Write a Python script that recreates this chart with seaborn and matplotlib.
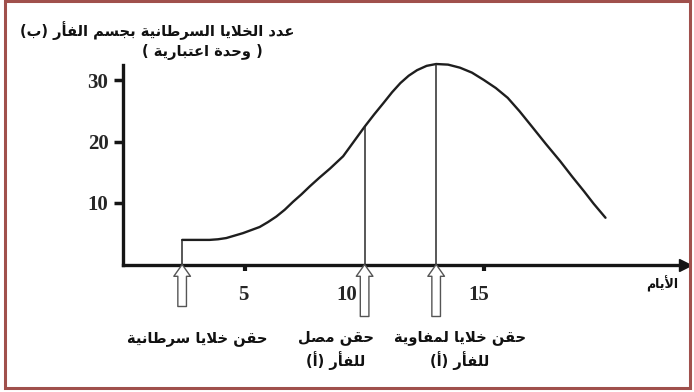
import numpy as np
import matplotlib
matplotlib.use('Agg')
import matplotlib.pyplot as plt
import seaborn as sns
from matplotlib.patches import Rectangle

# curve (days, arbitrary units)
days = [2.35, 3.5, 3.85, 4.2, 4.55, 4.9, 5.25, 5.6, 5.95, 6.3, 6.65, 7.0,
        7.35, 7.7, 8.1, 8.55, 9.1, 9.55, 10.0, 10.4, 10.8, 11.15, 11.5,
        11.85, 12.2, 12.6, 13.0, 13.5, 14.0, 14.5, 15.0, 15.5, 16.0, 16.5,
        17.0, 17.6, 18.2, 18.7, 19.2, 19.6, 20.1]
cells = [4.0, 4.0, 4.1, 4.3, 4.7, 5.1, 5.6, 6.1, 6.9, 7.8, 8.9, 10.2,
         11.4, 12.7, 14.1, 15.6, 17.6, 20.0, 22.4, 24.4, 26.3, 28.0, 29.5,
         30.7, 31.6, 32.3, 32.6, 32.5, 32.0, 31.2, 30.0, 28.7, 27.1, 24.9,
         22.5, 19.6, 16.8, 14.3, 11.9, 9.9, 7.6]

event_days = [2.35, 10.0, 13.0]
event_labels = ['حقن خلايا سرطانية', 'حقن مصل\nللفأر (أ)', 'حقن خلايا لمفاوية\nللفأر (أ)']

x_ticks = [5, 10, 15]
y_ticks = [10, 20, 30]
title_lines = ['عدد الخلايا السرطانية بجسم الفأر (ب)', '( وحدة اعتبارية )']
x_label = 'الأيام'

# --- minimal arabic shaping (matplotlib has no RTL / joining support) ---
FORMS = {
    'ا': ('\uFE8D', '\uFE8E', None, None),
    'أ': ('\uFE83', '\uFE84', None, None),
    'ب': ('\uFE8F', '\uFE90', '\uFE91', '\uFE92'),
    'ة': ('\uFE93', '\uFE94', None, None),
    'ت': ('\uFE95', '\uFE96', '\uFE97', '\uFE98'),
    'ج': ('\uFE9D', '\uFE9E', '\uFE9F', '\uFEA0'),
    'ح': ('\uFEA1', '\uFEA2', '\uFEA3', '\uFEA4'),
    'خ': ('\uFEA5', '\uFEA6', '\uFEA7', '\uFEA8'),
    'د': ('\uFEA9', '\uFEAA', None, None),
    'ر': ('\uFEAD', '\uFEAE', None, None),
    'س': ('\uFEB1', '\uFEB2', '\uFEB3', '\uFEB4'),
    'ص': ('\uFEB9', '\uFEBA', '\uFEBB', '\uFEBC'),
    'ط': ('\uFEC1', '\uFEC2', '\uFEC3', '\uFEC4'),
    'ع': ('\uFEC9', '\uFECA', '\uFECB', '\uFECC'),
    'ف': ('\uFED1', '\uFED2', '\uFED3', '\uFED4'),
    'ق': ('\uFED5', '\uFED6', '\uFED7', '\uFED8'),
    'ل': ('\uFEDD', '\uFEDE', '\uFEDF', '\uFEE0'),
    'م': ('\uFEE1', '\uFEE2', '\uFEE3', '\uFEE4'),
    'ن': ('\uFEE5', '\uFEE6', '\uFEE7', '\uFEE8'),
    'و': ('\uFEED', '\uFEEE', None, None),
    'ي': ('\uFEF1', '\uFEF2', '\uFEF3', '\uFEF4'),
}
LAM_ALEF = {'ا': ('\uFEFB', '\uFEFC'), 'أ': ('\uFEF7', '\uFEF8')}


def dual(c):
    return c in FORMS and FORMS[c][2] is not None


def shape_line(text):
    out = []
    i = 0
    n = len(text)
    while i < n:
        c = text[i]
        prev = text[i - 1] if i > 0 else ''
        nxt = text[i + 1] if i + 1 < n else ''
        if c == 'ل' and nxt in LAM_ALEF:
            out.append(LAM_ALEF[nxt][1 if dual(prev) else 0])
            i += 2
            continue
        if c not in FORMS:
            out.append(c)
            i += 1
            continue
        jp = dual(prev)
        jn = dual(c) and nxt in FORMS
        iso, fin, ini, med = FORMS[c]
        if jp and jn:
            out.append(med)
        elif jp:
            out.append(fin)
        elif jn:
            out.append(ini)
        else:
            out.append(iso)
        i += 1
    mirror = {'(': ')', ')': '('}
    return ''.join(mirror.get(ch, ch) for ch in reversed(out))


def ar(text):
    return '\n'.join(shape_line(s) for s in text.split('\n'))


W, H = 694, 392


def fp(x, y):
    # pixel position (from top left) -> figure fraction
    return x / W, 1 - y / H


sns.set_style('ticks')
plt.rcParams['font.family'] = ['DejaVu Sans']

fig = plt.figure(figsize=(W / 100, H / 100), dpi=100)
ax = fig.add_axes([123 / W, 1 - 264.5 / H, 562.4 / W, 34 * 6.15 / H])
ax.set_xlim(-0.13, 23.45)
ax.set_ylim(0, 34)

sns.lineplot(x=days, y=cells, ax=ax, color='#1e1e1e', linewidth=1.7, clip_on=False)
heights = np.interp(event_days, days, cells)
ax.vlines(event_days, 0, heights, color='#2a2a2a', linewidth=1.1)

# axes look
for s in ['top', 'right']:
    ax.spines[s].set_visible(False)
ax.spines['left'].set_bounds(0, 32.4)
ax.spines['left'].set_linewidth(2.4)
ax.spines['bottom'].set_linewidth(2.4)
ax.spines['left'].set_color('#151515')
ax.spines['bottom'].set_color('#151515')
ax.plot([1], [0], marker='>', markersize=8, color='#151515',
        transform=ax.get_yaxis_transform(), clip_on=False)

num_font = dict(family='Liberation Serif', weight='bold', size=15)
ax.set_yticks(y_ticks)
ax.set_yticklabels([str(v) for v in y_ticks], fontdict=num_font)
ax.tick_params(axis='y', left=True, length=6.5, width=2.5, pad=4, color='#151515')
ax.set_xticks(x_ticks)
ax.set_xticklabels([])
ax.tick_params(axis='x', bottom=True, length=4, width=3, color='#151515')

label_shift = [-2, -18, -5]
for t, dx in zip(x_ticks, label_shift):
    ax.annotate(str(t), xy=(t, 0), xytext=(dx, -31), textcoords='offset pixels',
                ha='center', va='center', **num_font)

# hollow injection arrows
tails = [42, 52, 52]
for d, tl in zip(event_days, tails):
    ax.annotate('', xy=(d, 0), xytext=(0, -tl), textcoords='offset pixels',
                arrowprops=dict(arrowstyle='simple,head_length=0.85,head_width=1.2,tail_width=0.62',
                                mutation_scale=10, fc='white', ec='#555555', lw=1.0,
                                shrinkA=0, shrinkB=0))

ar_font = dict(family='DejaVu Sans', weight='bold', color='#111111')
fig.text(*fp(157, 31), ar(title_lines[0]), ha='center', va='center', size=10.5, **ar_font)
fig.text(*fp(202, 52), ar(title_lines[1]), ha='center', va='center', size=10.5, **ar_font)
fig.text(*fp(662, 284), ar(x_label), ha='center', va='center', size=9, **ar_font)

label_pos = [(197, 338), (336, 350), (460, 350)]
for (x, y), lbl in zip(label_pos, event_labels):
    fig.text(*fp(x, y), ar(lbl), ha='center', va='center', size=10.5,
             multialignment='center', linespacing=1.45, **ar_font)

fig.add_artist(Rectangle(fp(5, 388), 685 / W, 387 / H, transform=fig.transFigure,
                         fill=False, edgecolor='#a0504c', linewidth=2.2))

fig.savefig('out.png', dpi=100)
